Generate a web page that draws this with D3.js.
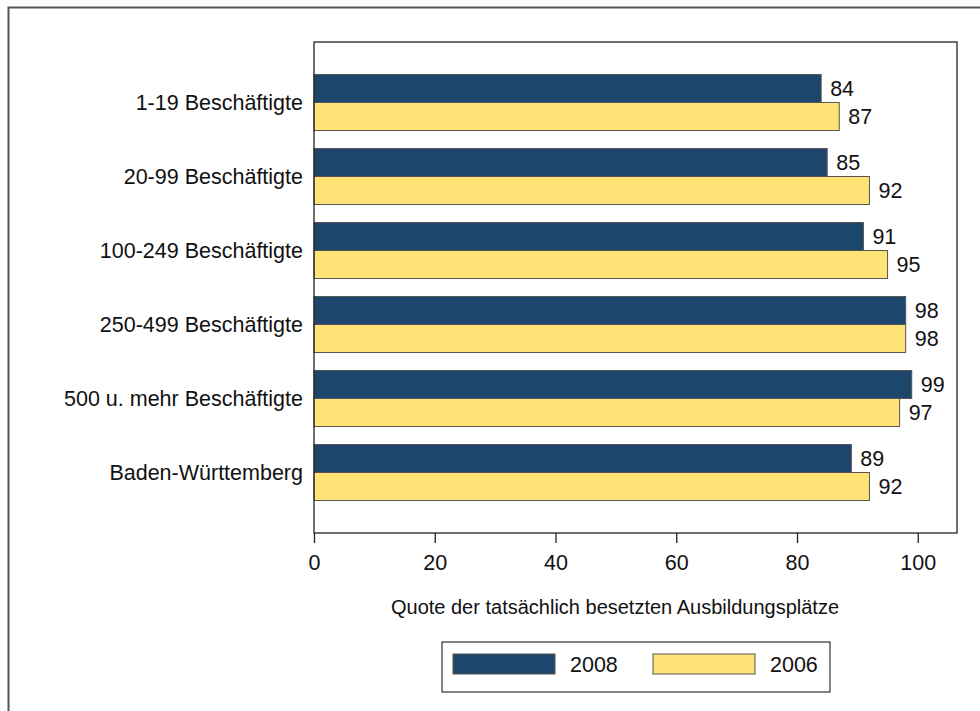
<!DOCTYPE html>
<meta charset="utf-8" />
<style>
  body { margin: 0; background: #fff; }
  text { font-family: "Liberation Sans", Arial, sans-serif; fill: #111; }
</style>
<body>
<div id="chart"></div>
<script src="https://d3js.org/d3.v7.min.js"></script>
<script>
  // data
  var categories = ["1-19 Beschäftigte", "20-99 Beschäftigte", "100-249 Beschäftigte",
    "250-499 Beschäftigte", "500 u. mehr Beschäftigte", "Baden-Württemberg"];
  var values2008 = [84, 85, 91, 98, 99, 89];
  var values2006 = [87, 92, 95, 98, 97, 92];
  var seriesNames = ["2008", "2006"];
  var xTicks = [0, 20, 40, 60, 80, 100];
  var colors = { "2008": "#1d466d", "2006": "#ffe376" };

  var W = 980, H = 711;
  var plot = { left: 314, top: 42, right: 957, bottom: 533 };
  var fs = "21.5px";

  var svg = d3.select("#chart").append("svg")
    .attr("width", W).attr("height", H);

  // outer frame (cut on right and bottom)
  svg.append("path")
    .attr("d", "M8.5," + H + "V7.5H" + W)
    .attr("fill", "none").attr("stroke", "#555").attr("stroke-width", 2);

  var x = d3.scaleLinear().domain([0, 106.5]).range([plot.left, plot.right]);
  var y = d3.scaleBand().domain(categories)
    .range([plot.top, plot.bottom]).paddingInner(0.243).paddingOuter(0.439);
  var ySub = d3.scaleBand().domain(seriesNames).range([0, y.bandwidth()]);

  var rows = categories.map(function (c, i) {
    return { cat: c, vals: [{ s: "2008", v: values2008[i] }, { s: "2006", v: values2006[i] }] };
  });

  // bars
  var g = svg.selectAll("g.row").data(rows).enter().append("g")
    .attr("class", "row")
    .attr("transform", function (d) { return "translate(0," + y(d.cat) + ")"; });

  g.selectAll("rect").data(function (d) { return d.vals; }).enter().append("rect")
    .attr("x", x(0))
    .attr("y", function (d) { return ySub(d.s); })
    .attr("width", function (d) { return x(d.v) - x(0); })
    .attr("height", ySub.bandwidth())
    .attr("fill", function (d) { return colors[d.s]; })
    .attr("stroke", "#555").attr("stroke-width", 1);

  g.selectAll("text.val").data(function (d) { return d.vals; }).enter().append("text")
    .attr("class", "val")
    .attr("x", function (d) { return x(d.v) + 9; })
    .attr("y", function (d) { return ySub(d.s) + ySub.bandwidth() / 2; })
    .attr("dy", "0.36em")
    .style("font-size", fs)
    .text(function (d) { return d.v; });

  // category labels
  svg.selectAll("text.cat").data(categories).enter().append("text")
    .attr("class", "cat")
    .attr("x", 303)
    .attr("y", function (d) { return y(d) + y.bandwidth() / 2; })
    .attr("dy", "0.36em")
    .attr("text-anchor", "end")
    .style("font-size", fs)
    .text(function (d) { return d; });

  // plot frame
  svg.append("rect")
    .attr("x", plot.left).attr("y", plot.top)
    .attr("width", plot.right - plot.left).attr("height", plot.bottom - plot.top)
    .attr("fill", "none").attr("stroke", "#222").attr("stroke-width", 1.3);

  // x axis
  var xAxis = svg.append("g")
    .attr("transform", "translate(0," + plot.bottom + ")")
    .call(d3.axisBottom(x).tickValues(xTicks).tickSize(10).tickPadding(12));
  xAxis.select(".domain").remove();
  xAxis.selectAll("line").attr("stroke", "#222").attr("stroke-width", 1.3);
  xAxis.selectAll("text").style("font-size", fs)
    .style("font-family", "'Liberation Sans', Arial, sans-serif").attr("fill", "#111");

  svg.append("text")
    .attr("x", 615).attr("y", 614)
    .attr("text-anchor", "middle")
    .style("font-size", "20px")
    .text("Quote der tatsächlich besetzten Ausbildungsplätze");

  // legend
  var leg = svg.append("g");
  leg.append("rect")
    .attr("x", 442).attr("y", 642).attr("width", 388).attr("height", 50)
    .attr("fill", "none").attr("stroke", "#333").attr("stroke-width", 1.2);
  var legX = [453, 653];
  seriesNames.forEach(function (s, i) {
    leg.append("rect")
      .attr("x", legX[i]).attr("y", 654).attr("width", 102).attr("height", 20)
      .attr("fill", colors[s]).attr("stroke", "#555");
    leg.append("text")
      .attr("x", legX[i] + 117).attr("y", 664).attr("dy", "0.36em")
      .style("font-size", fs)
      .text(s);
  });
</script>
</body>
